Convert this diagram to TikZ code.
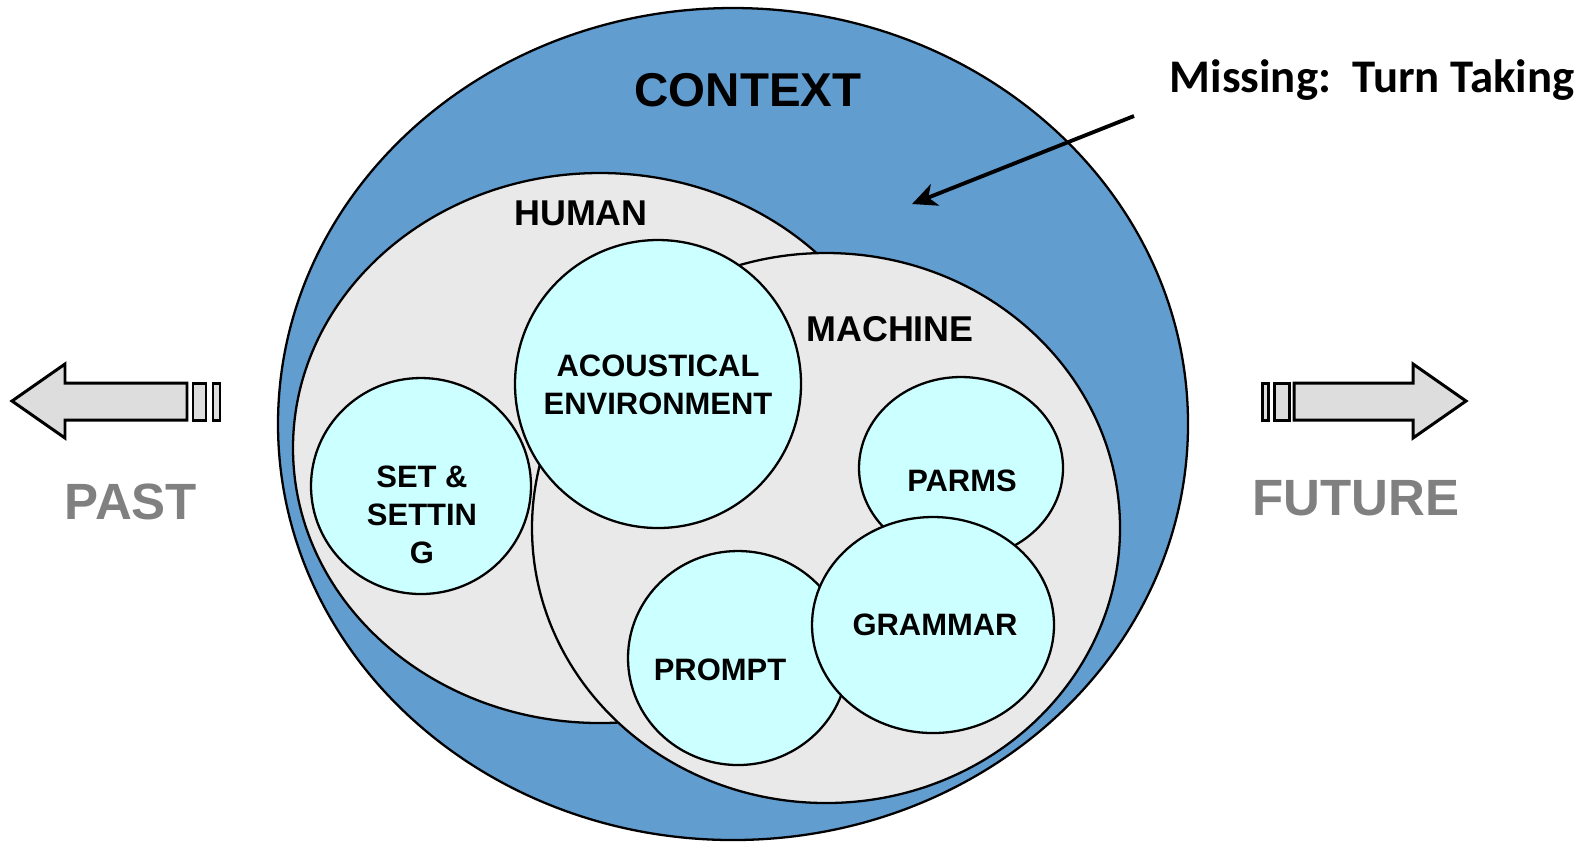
\documentclass[tikz,border=0pt]{standalone}
\usepackage{fontspec}
\setmainfont{Liberation Sans}
\newfontfamily\notefont{Carlito}
\usetikzlibrary{arrows.meta}
\definecolor{ctxblue}{RGB}{98,157,208}
\definecolor{setgray}{RGB}{233,233,233}
\definecolor{bubcyan}{RGB}{204,255,255}
\definecolor{arrgray}{RGB}{221,221,221}
\definecolor{txtgray}{RGB}{128,128,128}

\begin{document}
\begin{tikzpicture}[x=0.01cm, y=-0.01cm,
    ring/.style={draw=black, line width=0.65pt},
    bubble/.style={ring, fill=bubcyan},
    lbl/.style={font=\bfseries\fontsize{8.8}{10.8}\selectfont, align=center, inner sep=0pt},
    setlbl/.style={font=\bfseries\fontsize{10.2}{12}\selectfont, inner sep=0pt},
    timelbl/.style={font=\bfseries\fontsize{14.5}{17}\selectfont, text=txtgray, inner sep=0pt},
    timearrow/.style={draw=black, line width=0.85pt, fill=arrgray, line join=miter}]

    \useasboundingbox (0,0) rectangle (1583,844);

    % sets
    \filldraw[ring, fill=ctxblue] (733,424) ellipse (455 and 416);
    \filldraw[ring, fill=setgray] (600,448) ellipse (307 and 275);
    \filldraw[ring, fill=setgray] (826,528) ellipse (294 and 275);

    % bubbles
    \filldraw[bubble] (658,384) ellipse (143 and 144);
    \filldraw[bubble] (421,486) ellipse (110 and 108);
    \filldraw[bubble] (961,468) ellipse (102 and 91);
    \filldraw[bubble] (738,658) ellipse (110 and 107);
    \filldraw[bubble] (933,625) ellipse (121 and 108);

    % labels
    \node[font=\bfseries\fontsize{13.5}{16}\selectfont, inner sep=0pt] (context) at (748,90) {CONTEXT};
    \node[setlbl] (human) at (581,213) {HUMAN};
    \node[setlbl] (machine) at (890,329) {MACHINE};
    \node[lbl] (acoustic) at (658,385) {ACOUSTICAL\\ENVIRONMENT};
    \node[lbl] (setting) at (422,515) {SET \&\\SETTIN\\G};
    \node[lbl] (parms) at (962,481) {PARMS};
    \node[lbl] (prompt) at (720,670) {PROMPT};
    \node[lbl] (grammar) at (935,625) {GRAMMAR};

    % missing note
    \node[font=\notefont\bfseries\fontsize{13.3}{16}\selectfont, anchor=base, inner sep=0pt] (missing) at (1372,92) {Missing:\ \ Turn Taking};
    \coordinate (turnfrom) at (1134,116);
    \coordinate (turnto) at (912,204);
    \draw[line width=1.1pt, -{Stealth[length=7pt, width=6.5pt, inset=2pt]}] (turnfrom) -- (turnto);

    % past
    \draw[timearrow] (12,401) -- (65,364) -- (65,383) -- (187,383) -- (187,420) -- (65,420) -- (65,438) -- cycle;
    \draw[timearrow] (193,383) rectangle (206,420);
    \draw[timearrow] (213,383) rectangle (220,420);
    \node[timelbl] (past) at (131,502) {PAST};

    % future
    \draw[timearrow] (1466,401) -- (1413,364) -- (1413,383) -- (1294,383) -- (1294,420) -- (1413,420) -- (1413,438) -- cycle;
    \draw[timearrow] (1274,383) rectangle (1289,420);
    \draw[timearrow] (1262,383) rectangle (1268,420);
    \node[timelbl] (future) at (1356,498) {FUTURE};
\end{tikzpicture}
\end{document}
